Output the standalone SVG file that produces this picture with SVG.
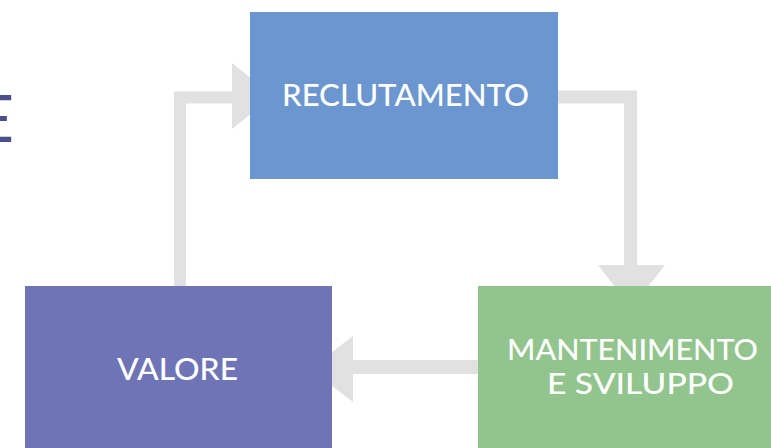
<svg xmlns="http://www.w3.org/2000/svg" width="771" height="448" viewBox="0 0 771 448">
<style>
.lbl{font-family:Lato,"Open Sans","Liberation Sans",sans-serif;font-weight:500;fill:#ffffff;text-anchor:middle}
.ln{fill:none;stroke:#e1e1e1;stroke-linejoin:miter}
.hd{fill:#e1e1e1}
</style>
<rect width="771" height="448" fill="#ffffff"/>
<text x="14" y="142" font-family="Lato,'Open Sans','Liberation Sans',sans-serif" font-size="66" fill="#4b4f8c" text-anchor="end">E</text>
<g id="connectors">
<polyline class="ln" stroke-width="12" points="180,287 180,97.5 233,97.5"/>
<polygon class="hd" points="232,63 273,96 232,129"/>
<polyline class="ln" stroke-width="13" points="558,97 630.5,97 630.5,266"/>
<polygon class="hd" points="598,265 665,265 631.5,308"/>
<line class="ln" stroke-width="14" x1="479" y1="367" x2="352" y2="367"/>
<polygon class="hd" points="353,336 310,369 353,402"/>
</g>
<g id="reclutamento">
<rect x="250" y="12" width="308" height="167" fill="#6b96cf"/>
<text class="lbl" x="405.5" y="106" font-size="30" textLength="247" lengthAdjust="spacingAndGlyphs">RECLUTAMENTO</text>
</g>
<g id="mantenimento">
<rect x="478" y="286" width="293" height="162" fill="#92c48d"/>
<text class="lbl" x="632.5" y="360" font-size="28" textLength="251" lengthAdjust="spacingAndGlyphs">MANTENIMENTO</text>
<text class="lbl" x="640.5" y="394" font-size="28" textLength="187" lengthAdjust="spacingAndGlyphs">E SVILUPPO</text>
</g>
<g id="valore">
<rect x="25" y="286" width="307" height="162" fill="#6e74b6"/>
<text class="lbl" x="177.5" y="380" font-size="30" textLength="121" lengthAdjust="spacingAndGlyphs">VALORE</text>
</g>
</svg>
